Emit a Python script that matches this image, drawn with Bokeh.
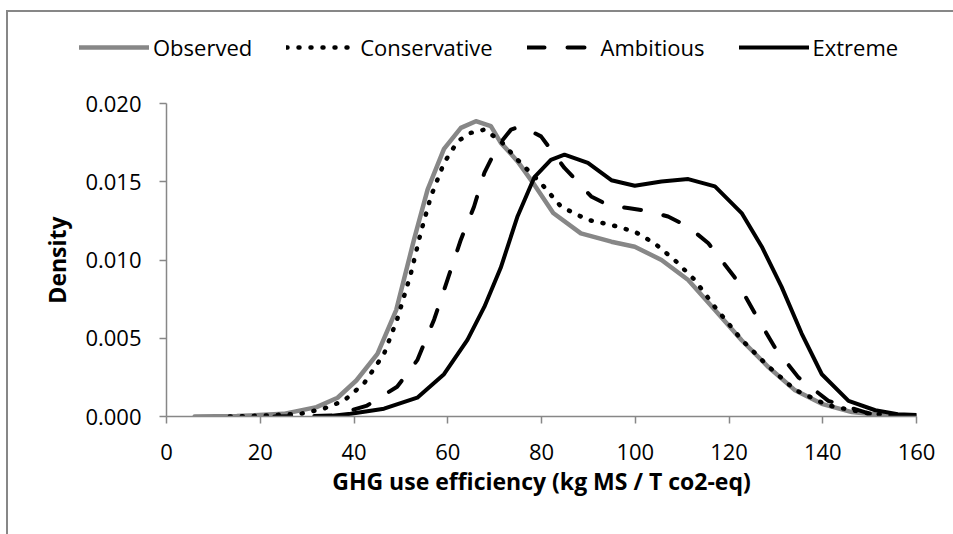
from bokeh.plotting import figure
from bokeh.layouts import column, row
from bokeh.models import Range1d, FixedTicker, Legend, LegendItem, NumeralTickFormatter
from bokeh.embed import file_html
from bokeh.resources import INLINE

# ---- data ----
obs_x = [6, 15, 25, 32, 36.5, 40.5, 45, 49, 52.8, 55.7, 59.2, 62.8, 66, 69.2, 71.3, 74.9, 78.5,
         82.5, 88.4, 94.9, 99.9, 105.6, 111.3, 117, 122.7, 128.4, 134.1, 139.8, 146.2, 153, 160]
obs_y = [0, 0.00003, 0.00017, 0.0006, 0.0012, 0.0023, 0.0040, 0.0068, 0.0113, 0.0145, 0.0171,
         0.01844, 0.01887, 0.01855, 0.0175, 0.0163, 0.0148, 0.0130, 0.0117, 0.01117, 0.01085,
         0.0100, 0.00872, 0.0068, 0.00487, 0.00316, 0.00167, 0.00081, 0.00028, 0.00008, 0.00003]

con_x = [13.5, 20, 28.6, 33.5, 37.8, 42.1, 46.4, 49.2, 52.1, 54.2, 56.4, 59.2, 62.1, 64.9, 67.8,
         71.3, 74.9, 79.9, 84.2, 89.9, 94.9, 99.9, 104.1, 108.4, 112.7, 117, 122.7, 128.4, 134.1,
         141.2, 149.8, 156]
con_y = [0, 0.00005, 0.00017, 0.0005, 0.001, 0.0021, 0.004, 0.0062, 0.0091, 0.0117, 0.01406,
         0.0162, 0.01758, 0.01812, 0.01833, 0.0176, 0.0164, 0.0149, 0.0134, 0.01256, 0.01224,
         0.01181, 0.01107, 0.0100, 0.00872, 0.0070, 0.0049, 0.0032, 0.0017, 0.0007, 0.0002, 0.00005]

amb_x = [23, 30, 35.7, 42.8, 49.2, 53.5, 57.1, 59.9, 62.8, 65.6, 67.8, 70.6, 73.5, 75.6, 79.9,
         84.9, 87.4, 90.6, 94.5, 98.8, 103.1, 107, 111.3, 115.6, 121.2, 125.5, 129.8, 134.8,
         141.2, 149.8, 156]
amb_y = [0, 0.00002, 0.00006, 0.0007, 0.0019, 0.0036, 0.0062, 0.0087, 0.0113, 0.0134, 0.01556,
         0.01726, 0.01833, 0.01855, 0.0179, 0.01588, 0.0151, 0.01406, 0.01346, 0.01331, 0.0131,
         0.01278, 0.01213, 0.01107, 0.0089, 0.0066, 0.0044, 0.0025, 0.001, 0.0002, 0.00005]

ext_x = [34, 39.3, 46.4, 53.5, 59.2, 64.2, 67.8, 71.3, 74.9, 78.5, 82, 84.9, 89.9, 94.9, 99.9,
         105.6, 111.3, 117, 122.7, 127, 131.2, 135.5, 139.8, 145.5, 151.2, 156, 160]
ext_y = [0, 0.00017, 0.0005, 0.0012, 0.0027, 0.0049, 0.0070, 0.0095, 0.0128, 0.0153, 0.0164,
         0.01673, 0.0162, 0.0151, 0.01474, 0.01502, 0.01517, 0.0147, 0.013, 0.01085, 0.0083,
         0.0053, 0.0027, 0.001, 0.0004, 0.00015, 0.0001]

x_ticks = [0, 20, 40, 60, 80, 100, 120, 140, 160]
y_ticks = [0, 0.005, 0.010, 0.015, 0.020]

series_names = ["Observed", "Conservative", "Ambitious", "Extreme"]
series = [(obs_x, obs_y), (con_x, con_y), (amb_x, amb_y), (ext_x, ext_y)]

FONT = "Open Sans"
GRAY = "#878787"

STYLES = [
    dict(line_color=GRAY, line_width=4.5, line_join="round", line_cap="round"),
    dict(line_color="black", line_width=4.5, line_dash="1 11", line_cap="round", line_join="round"),
    dict(line_color="black", line_width=4, line_dash="17 23", line_cap="round", line_join="round"),
    dict(line_color="black", line_width=4, line_join="round", line_cap="round"),
]

# ---- main plot ----
p = figure(width=945, height=452, output_backend="svg", toolbar_location=None,
           x_range=Range1d(0, 160), y_range=Range1d(0, 0.02),
           min_border_left=158, min_border_right=37, min_border_top=21, min_border_bottom=118)
p.xgrid.visible = False
p.ygrid.visible = False
p.outline_line_color = None

for (xs, ys), st in zip(series, STYLES):
    p.line(xs, ys, **st)

for ax in (p.xaxis[0], p.yaxis[0]):
    ax.axis_line_color = GRAY
    ax.axis_line_width = 1.5
    ax.major_tick_line_color = GRAY
    ax.major_tick_line_width = 1.5
    ax.major_tick_in = 0
    ax.major_tick_out = 7
    ax.minor_tick_line_color = None
    ax.major_label_text_font = FONT
    ax.major_label_text_font_size = "22px"
    ax.major_label_text_color = "black"
    ax.axis_label_text_font = FONT
    ax.axis_label_text_font_size = "23px"
    ax.axis_label_text_font_style = "bold"
    ax.axis_label_text_color = "black"

p.xaxis.ticker = FixedTicker(ticks=x_ticks)
p.yaxis.ticker = FixedTicker(ticks=y_ticks)
p.yaxis.formatter = NumeralTickFormatter(format="0.000")
p.xaxis.axis_label = "GHG use efficiency (kg MS / T co2-eq)"
p.yaxis.axis_label = "Density"
p.xaxis.major_label_standoff = 20
p.yaxis.major_label_standoff = 18
p.xaxis.axis_label_standoff = 2
p.yaxis.axis_label_standoff = 9

# ---- legend strip (same series, drawn outside its visible range) ----
lg = figure(width=945, height=70, output_backend="svg", toolbar_location=None,
            x_range=Range1d(0, 160), y_range=Range1d(1, 2),
            min_border_left=0, min_border_right=0, min_border_top=0, min_border_bottom=0,
            x_axis_location=None, y_axis_location=None)
lg.xgrid.visible = False
lg.ygrid.visible = False
lg.outline_line_color = None
items = []
for name, (xs, ys), st in zip(series_names, series, STYLES):
    r = lg.line(xs, ys, **st)
    items.append(LegendItem(label=name, renderers=[r]))
legend = Legend(items=items, orientation="horizontal", location=(71, 20),
                glyph_width=70, glyph_height=24, label_standoff=4, spacing=34,
                padding=0, margin=0, border_line_color=None, background_fill_alpha=0,
                label_text_font=FONT, label_text_font_size="22px", label_height=24,
                label_text_color="black")
lg.add_layout(legend)

layout = column(row(lg), p, spacing=0,
                styles={"border-left": "2px solid " + GRAY, "border-top": "2px solid " + GRAY,
                        "margin-left": "6px", "margin-top": "10px"})

open("out.html", "w").write(file_html(layout, INLINE))
